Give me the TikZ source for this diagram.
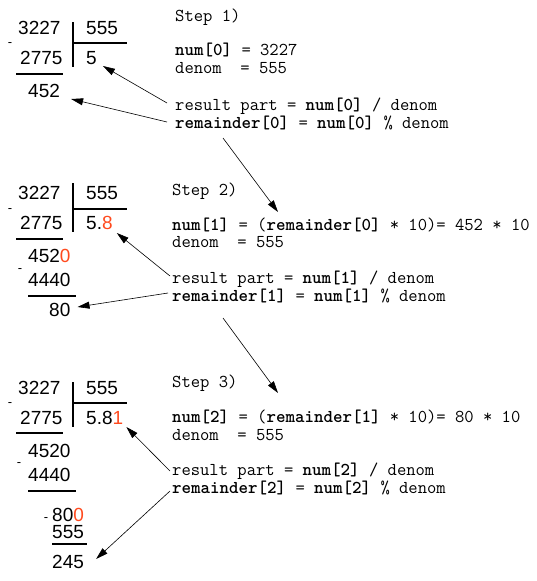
\documentclass[tikz,border=0pt]{standalone}
\usepackage{fontspec}
\setmainfont{Liberation Sans}
\usetikzlibrary{arrows.meta}
\definecolor{hl}{RGB}{255,74,30}
\begin{document}
\begin{tikzpicture}[x=1pt,y=-1pt,
  numtxt/.style={font=\fontsize{19}{19}\selectfont, inner sep=0, anchor=west},
  minus/.style={font=\fontsize{13}{13}\selectfont, inner sep=0, anchor=base},
  code/.style={font=\ttfamily\fontsize{18.1}{18}\selectfont, inner sep=0, anchor=base west},
  rulel/.style={line width=1.6pt},
  arr/.style={-{Triangle[length=12pt,width=7pt]}, line width=0.6pt}]
\useasboundingbox (0,0) rectangle (537,581);

% ---------- Step 1 division ----------
\node[numtxt] (a1) at (18,28) {3227};
\node[numtxt] (b1) at (86,28) {555};
\node[minus] (m1) at (10,46.5) {-};
\node[numtxt] (c1) at (20,58) {2775};
\node[numtxt] (q1) at (86,58) {5};
\node[numtxt] (r1) at (28,91) {452};
\draw[rulel] (73,22) -- (73,67);
\draw[rulel] (73,43) -- (127,43);
\draw[rulel] (16,74) -- (63,74);

% ---------- Step 1 code ----------
\node[code] (s1) at (175,21) {Step 1)};
\node[code] (n1) at (175,55) {\textbf{num[0]} = 3227};
\node[code] (d1) at (175,73) {denom\ \ = 555};
\node[code] (res1) at (175,110) {result part = \textbf{num[0]} / denom};
\node[code] (rem1) at (175,128) {\textbf{remainder[0]} = \textbf{num[0]} \% denom};

% ---------- Step 2 division ----------
\node[numtxt] (a2) at (18,193) {3227};
\node[numtxt] (b2) at (86,193) {555};
\node[minus] (m2) at (10,212.5) {-};
\node[numtxt] (c2) at (20,223) {2775};
\node[numtxt] (q2) at (86,223) {5.\textcolor{hl}{8}};
\node[numtxt] (e2) at (28,256) {452\textcolor{hl}{0}};
\node[minus] (m2b) at (20,272.5) {-};
\node[numtxt] (f2) at (28,280) {4440};
\node[numtxt] (r2) at (49,310) {80};
\draw[rulel] (73,183) -- (73,232);
\draw[rulel] (73,209) -- (127,209);
\draw[rulel] (16,239) -- (63,239);
\draw[rulel] (28,296) -- (76,296);

% ---------- Step 2 code ----------
\node[code] (s2) at (172,195) {Step 2)};
\node[code] (n2) at (172,230) {\textbf{num[1]} = (\textbf{remainder[0]} * 10)= 452 * 10};
\node[code] (d2) at (172,247.5) {denom\ \ = 555};
\node[code] (res2) at (172,283) {result part = \textbf{num[1]} / denom};
\node[code] (rem2) at (172,301) {\textbf{remainder[1]} = \textbf{num[1]} \% denom};

% ---------- Step 3 division ----------
\node[numtxt] (a3) at (18,388) {3227};
\node[numtxt] (b3) at (86,388) {555};
\node[minus] (m3) at (10,406.5) {-};
\node[numtxt] (c3) at (20,418) {2775};
\node[numtxt] (q3) at (86,418) {5.8\textcolor{hl}{1}};
\node[numtxt] (e3) at (28,451) {4520};
\node[minus] (m3b) at (19,466.5) {-};
\node[numtxt] (f3) at (28,475) {4440};
\node[numtxt] (g3) at (52,514.5) {80\textcolor{hl}{0}};
\node[minus] (m3c) at (46,521) {-};
\node[numtxt] (h3) at (52,532) {555};
\node[numtxt] (r3) at (52,562) {245};
\draw[rulel] (73,382) -- (73,427);
\draw[rulel] (73,403) -- (127,403);
\draw[rulel] (16,433) -- (63,433);
\draw[rulel] (28,491) -- (76,491);
\draw[rulel] (52,544) -- (87,544);

% ---------- Step 3 code ----------
\node[code] (s3) at (172,387) {Step 3)};
\node[code] (n3) at (172,422) {\textbf{num[2]} = (\textbf{remainder[1]} * 10)= 80 * 10};
\node[code] (d3) at (172,440) {denom\ \ = 555};
\node[code] (res3) at (172,475) {result part = \textbf{num[2]} / denom};
\node[code] (rem3) at (172,493) {\textbf{remainder[2]} = \textbf{num[2]} \% denom};

% ---------- Arrows ----------
\draw[arr] ([shift={(-8,-7)}]res1.base west) -- ([shift={(6,8)}]q1.east);
\draw[arr] ([shift={(-8,-6)}]rem1.base west) -- ([shift={(11,8)}]r1.east);
\draw[arr] ([shift={(48,10)}]rem1.base west) -- ([shift={(106,-18)}]n2.base west);
\draw[arr] ([shift={(-2,-7)}]res2.base west) -- ([shift={(4,10)}]q2.east);
\draw[arr] ([shift={(-4,-8)}]rem2.base west) -- ([shift={(7,-3)}]r2.east);
\draw[arr] ([shift={(51,17)}]rem2.base west) -- ([shift={(106,-29)}]n3.base west);
\draw[arr] ([shift={(-2,-4)}]res3.base west) -- ([shift={(3,9)}]q3.east);
\draw[arr] ([shift={(-2,-2)}]rem3.base west) -- ([shift={(12,-3)}]r3.east);
\end{tikzpicture}
\end{document}
